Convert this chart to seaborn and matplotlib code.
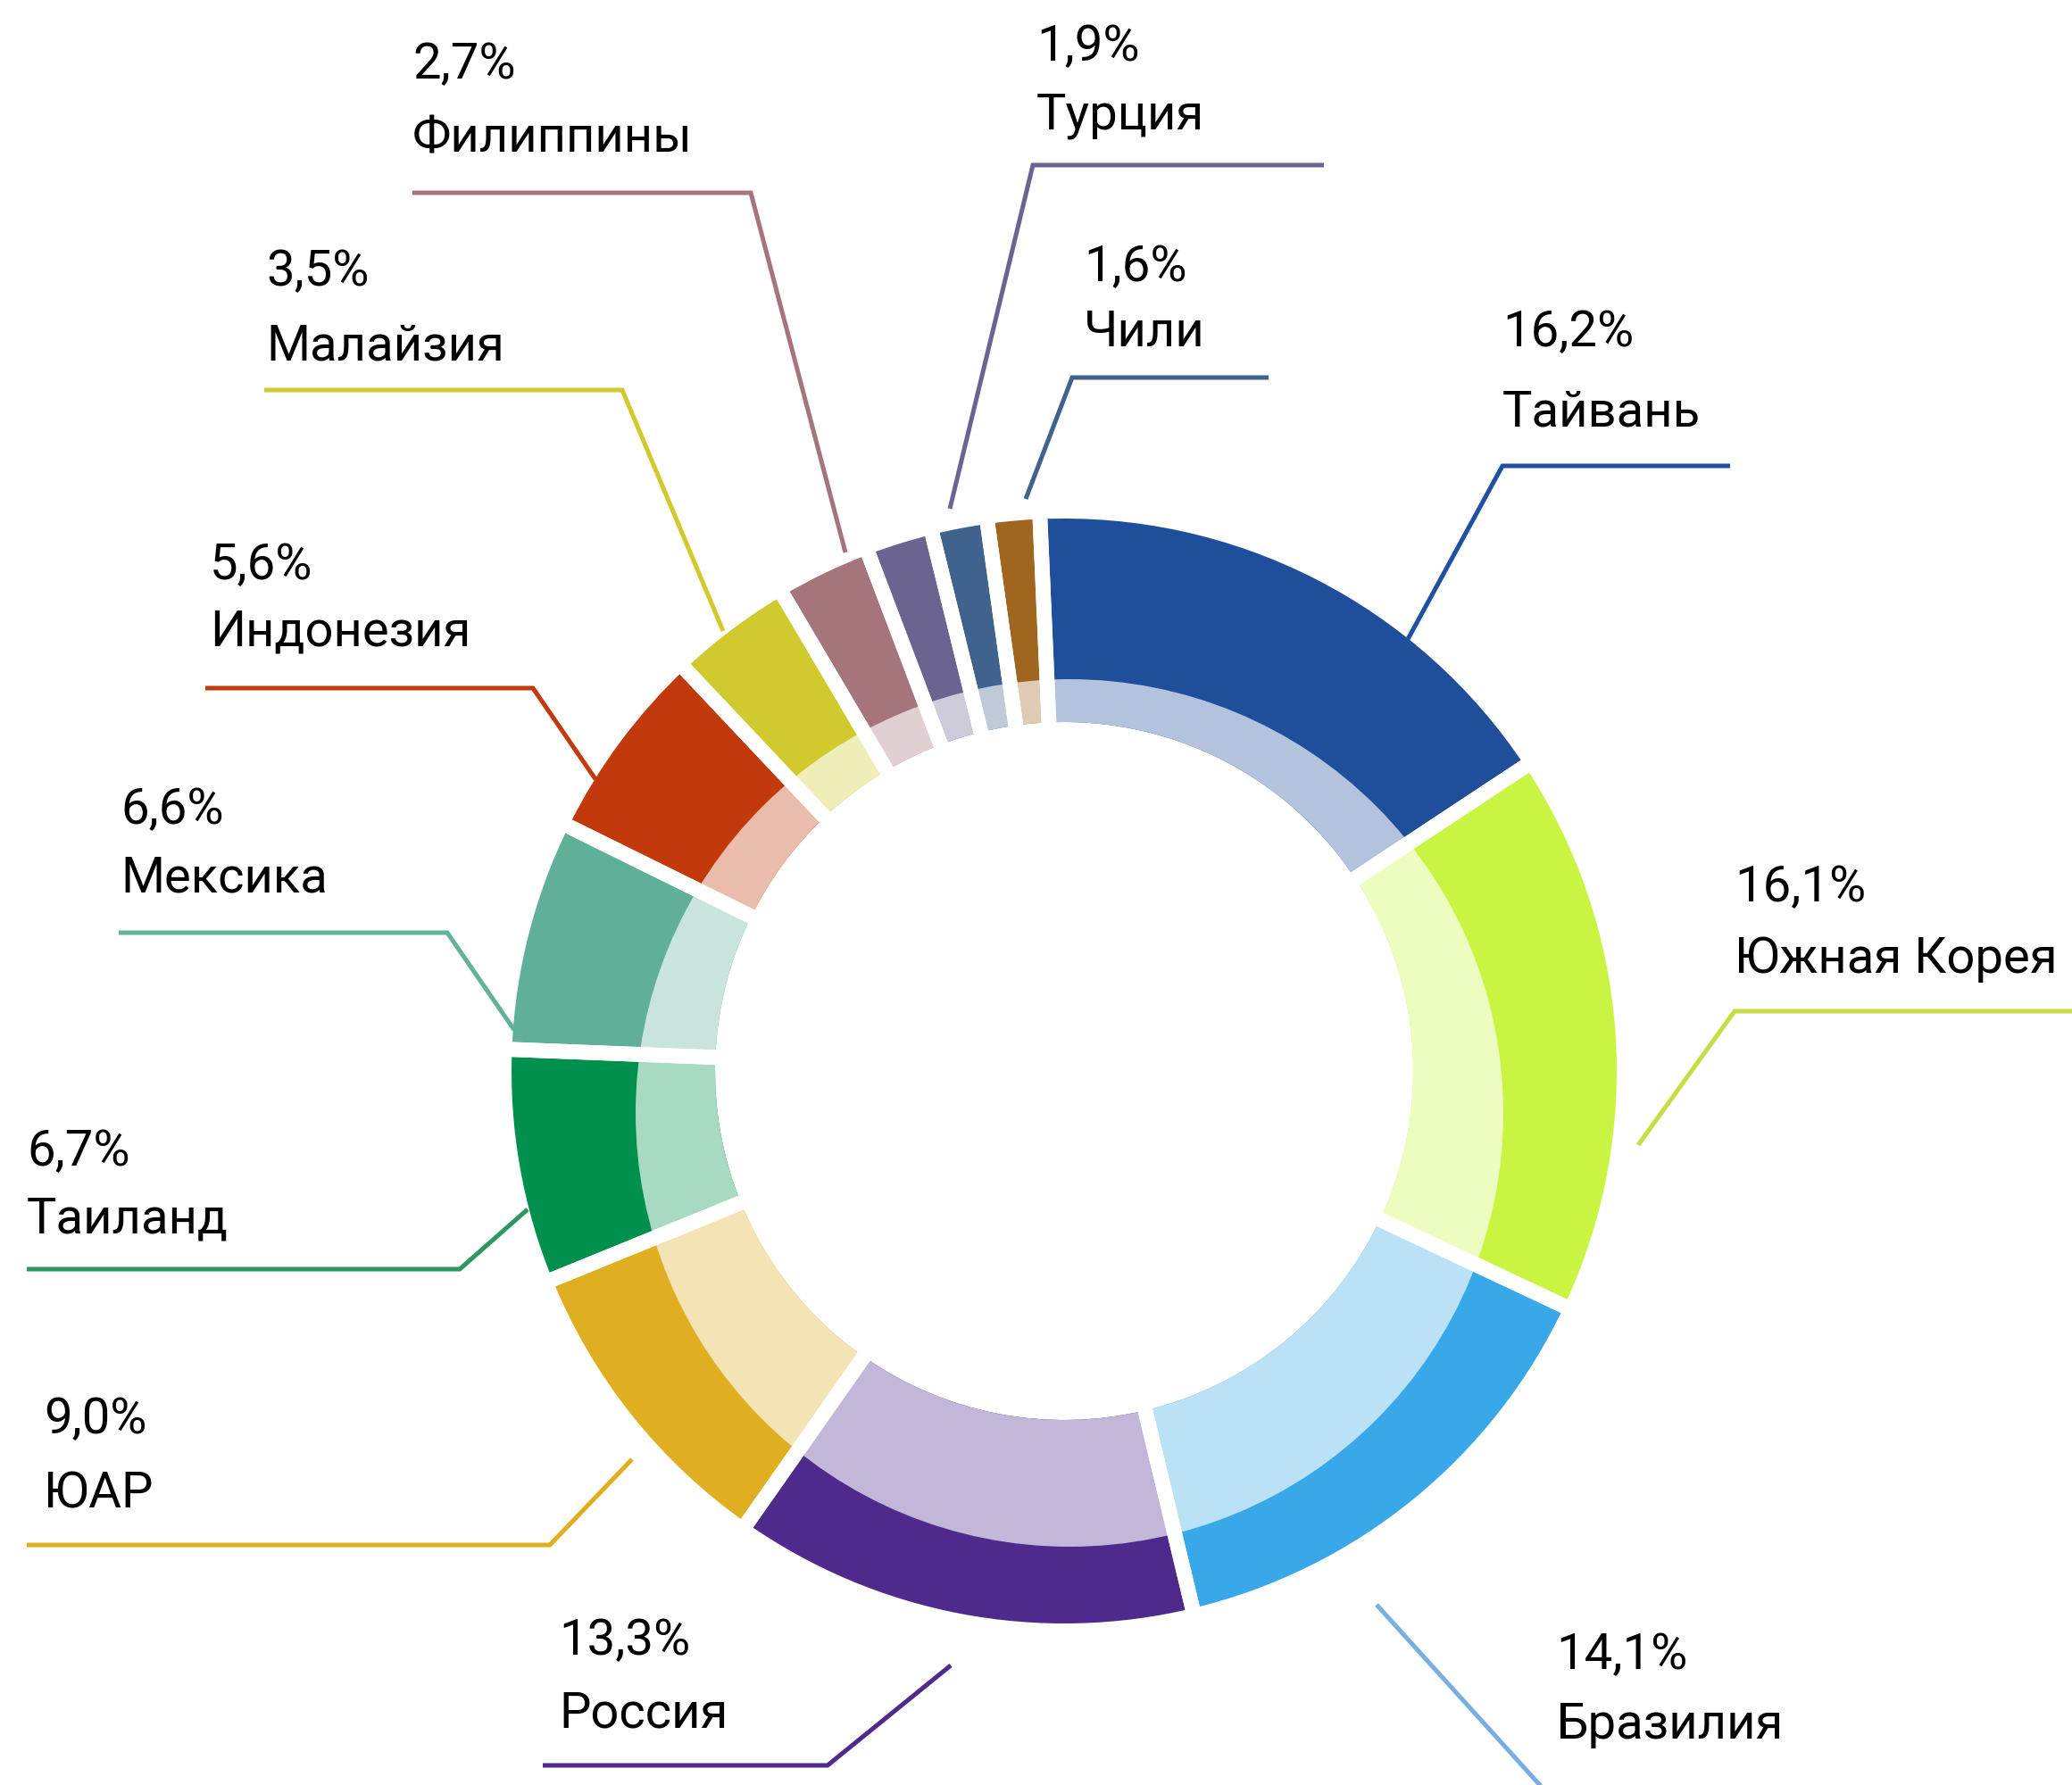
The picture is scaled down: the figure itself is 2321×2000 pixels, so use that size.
import numpy as np
import matplotlib
matplotlib.use('Agg')
import matplotlib.pyplot as plt
import matplotlib.colors as mcolors
from matplotlib.patches import Circle
import seaborn as sns

# data (clockwise from the top)
countries = ['Тайвань', 'Южная Корея', 'Бразилия', 'Россия', 'ЮАР', 'Таиланд',
             'Мексика', 'Индонезия', 'Малайзия', 'Филиппины', 'Турция', 'Чили', '']
shares = [16.2, 16.1, 14.1, 13.3, 9.0, 6.7, 6.6, 5.6, 3.5, 2.7, 1.9, 1.6, 1.5]

slice_colors = ['#1F4E9B', '#C9F542', '#38A8E8', '#4D2A8B', '#DFAE21', '#00904E',
                '#60AF98', '#C2390C', '#D0CA2E', '#A6757B', '#6B6491', '#3F638C', '#A0651E']
line_colors = ['#2050A0', '#C8DC46', '#78AEE0', '#4D2A8B', '#DFAE21', '#2E9660',
               '#62B29B', '#C2390C', '#D0CA2E', '#A6757B', '#6B6491', '#3F638C', '#A0651E']

# label layout in pixels (top-down): text left, baseline of the two lines
text_pos = [(1683, 388, 478), (1943, 1010, 1090), (1743, 1870, 1948), (626, 1854, 1935),
            (49, 1606, 1689), (30, 1306, 1381), (135, 923, 999), (235, 649, 724),
            (298, 320, 404), (462, 88, 170), (1161, 68, 145), (1214, 315, 388)]
# leader: far end of the horizontal, elbow, tip at the ring
leaders = [[(1938, 522), (1683, 522), (1576, 718)],
           [(2330, 1133), (1943, 1133), (1835, 1283)],
           [(2400, 2020), (1743, 2020), (1542, 1798)],
           [(608, 1978), (927, 1978), (1065, 1866)],
           [(30, 1731), (616, 1731), (708, 1635)],
           [(30, 1422), (515, 1422), (591, 1355)],
           [(133, 1045), (501, 1045), (576, 1154)],
           [(230, 771), (597, 771), (667, 873)],
           [(296, 437), (697, 437), (810, 707)],
           [(462, 216), (841, 216), (947, 619)],
           [(1483, 185), (1157, 185), (1064, 570)],
           [(1421, 423), (1201, 423), (1149, 559)]]

sns.set_theme(style='white')
plt.rcParams['font.family'] = ['Roboto', 'DejaVu Sans']

W, H = 2321, 2000
fig = plt.figure(figsize=(W / 100, H / 100), dpi=100)
ax = fig.add_axes([0, 0, 1, 1])

cx, cy = 1192, H - 1200
r_out, r_hole = 619, 391
start = 92.5


def lighten(c, a=0.34):
    rgb = np.array(mcolors.to_rgb(c))
    return tuple(1 - a * (1 - rgb))


light_colors = [lighten(c) for c in slice_colors]

# dark outer ring
ax.pie(shares, colors=slice_colors, radius=r_out, center=(cx, cy), startangle=start,
       counterclock=False, wedgeprops=dict(width=r_out - r_hole, linewidth=0))

# light inner band (an off-centre circle in the original)
band = Circle((1198, H - 1247), 486, transform=ax.transData)
inner, _ = ax.pie(shares, colors=light_colors, radius=r_out, center=(cx, cy), startangle=start,
                  counterclock=False, wedgeprops=dict(width=r_out - r_hole, linewidth=0))
for w in inner:
    w.set_clip_on(True)
    w.set_clip_path(band)

# white separators between slices
ax.pie(shares, radius=r_out + 20, center=(cx, cy), startangle=start, counterclock=False,
       wedgeprops=dict(facecolor='none', edgecolor='white', linewidth=12))

# labels with leader lines
for i, name in enumerate(countries[:len(text_pos)]):
    tx, b1, b2 = text_pos[i]
    pct = '{:.1f}%'.format(shares[i]).replace('.', ',')
    ax.text(tx, H - b1, pct, fontsize=40.5, color='black', va='baseline', ha='left')
    ax.text(tx, H - b2, name, fontsize=40.5, color='black', va='baseline', ha='left')
    xs = [p[0] for p in leaders[i]]
    ys = [H - p[1] for p in leaders[i]]
    ax.plot(xs, ys, color=line_colors[i], linewidth=3.6, solid_joinstyle='miter',
            solid_capstyle='butt', zorder=5)

ax.set_xlim(0, W)
ax.set_ylim(0, H)
ax.set_aspect('equal')
ax.axis('off')

fig.savefig('out.png', dpi=100, facecolor='white')
